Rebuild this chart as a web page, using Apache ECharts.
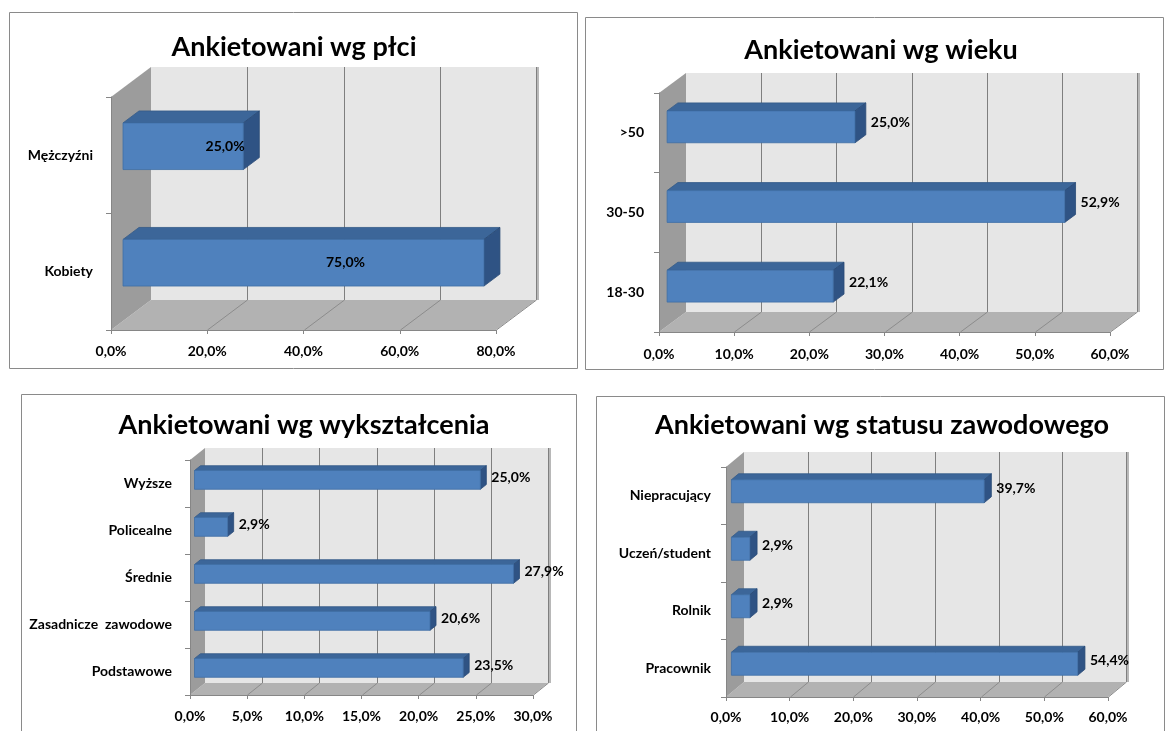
<!DOCTYPE html>
<html><head><meta charset="utf-8">
<script src="https://cdn.jsdelivr.net/npm/echarts@6/dist/echarts.min.js"></script>
<style>html,body{margin:0;padding:0;background:#fff}#c{width:1167px;height:731px}</style>
</head><body><div id="c"></div>
<script>
// ---- data ----
const genderCats = ['Kobiety', 'Mężczyźni'];
const genderVals = [75.0, 25.0];
const ageCats = ['18-30', '30-50', '>50'];
const ageVals = [22.1, 52.9, 25.0];
const eduCats = ['Podstawowe', 'Zasadnicze  zawodowe', 'Średnie', 'Policealne', 'Wyższe'];
const eduVals = [23.5, 20.6, 27.9, 2.9, 25.0];
const jobCats = ['Pracownik', 'Rolnik', 'Uczeń/student', 'Niepracujący'];
const jobVals = [54.4, 2.9, 2.9, 39.7];
const titles = ['Ankietowani wg płci', 'Ankietowani wg wieku', 'Ankietowani wg wykształcenia', 'Ankietowani wg statusu zawodowego'];
const axisMax = [80, 60, 30, 60];
const axisStep = [20, 10, 5, 10];

// ---- layout / style ----
const FONT = 'Lato';
const panels = [
  {cats: genderCats, vals: genderVals, grid: {left: 111, top: 97, width: 385, height: 233}, depth: [40, -30],
   box: [9, 12, 568, 356], title: [294, 47], inside: true, yMargin: 18, xMargin: 14},
  {cats: ageCats, vals: ageVals, grid: {left: 659, top: 93, width: 451, height: 239}, depth: [27, -20],
   box: [585, 17, 578, 352], title: [881, 50], inside: false, yMargin: 15, xMargin: 15},
  {cats: eduCats, vals: eduVals, grid: {left: 190, top: 460, width: 343, height: 235}, depth: [15, -12],
   box: [21, 394, 555, 400], title: [304, 425], inside: false, yMargin: 18, xMargin: 14},
  {cats: jobCats, vals: jobVals, grid: {left: 726, top: 467, width: 382, height: 230}, depth: [18, -15],
   box: [596, 396, 568, 400], title: [882, 425], inside: false, yMargin: 15, xMargin: 13}
];

function fmt(v) { return v.toFixed(1).replace('.', ',') + '%'; }

function wallRender(depth, max, step) {
  return function (params, api) {
    const cs = params.coordSys;
    const x0 = cs.x, y0 = cs.y, w = cs.width, h = cs.height;
    const dx = depth[0], dy = depth[1];
    const ch = [];
    ch.push({type: 'rect', shape: {x: x0 + dx, y: y0 + dy, width: w, height: h}, style: {fill: '#e6e6e6'}});
    ch.push({type: 'rect', shape: {x: x0 + dx + w, y: y0 + dy, width: 3, height: h}, style: {fill: '#b8b8b8'}});
    ch.push({type: 'polygon', shape: {points: [[x0, y0 + h], [x0 + w, y0 + h], [x0 + w + dx, y0 + h + dy], [x0 + dx, y0 + h + dy]]}, style: {fill: '#b2b2b2'}});
    ch.push({type: 'polygon', shape: {points: [[x0, y0], [x0 + dx, y0 + dy], [x0 + dx, y0 + h + dy], [x0, y0 + h]]}, style: {fill: '#9c9c9c'}});
    for (let t = 0; t <= max + 1e-9; t += step) {
      const x = Math.round(api.coord([t, 0])[0]) + 0.5;
      if (t > 0) {
        ch.push({type: 'line', shape: {x1: x + dx, y1: y0 + dy, x2: x + dx, y2: y0 + h + dy}, style: {stroke: '#7f7f7f', lineWidth: 1}});
        ch.push({type: 'line', shape: {x1: x, y1: y0 + h, x2: x + dx, y2: y0 + h + dy}, style: {stroke: '#8c8c8c', lineWidth: 1}});
      }
    }
    return {type: 'group', children: ch};
  };
}

function barRender(depth, inside) {
  return function (params, api) {
    const v = api.value(0), i = api.value(1);
    const p0 = api.coord([0, i]), p1 = api.coord([v, i]);
    const band = api.size([0, 1])[1];
    const bh = band * 0.4;
    const fx = depth[0] * 0.3, fy = depth[1] * 0.3;
    const bx = depth[0] * 0.4, by = depth[1] * 0.4;
    const xa = p0[0] + fx, xb = p1[0] + fx;
    const yc = p0[1] + fy, yt = yc - bh / 2, yb = yc + bh / 2;
    const ch = [
      {type: 'polygon', shape: {points: [[xa, yt], [xb, yt], [xb + bx, yt + by], [xa + bx, yt + by]]},
       style: {fill: '#3c6699', stroke: '#335a88', lineWidth: 0.8}},
      {type: 'polygon', shape: {points: [[xb, yt], [xb + bx, yt + by], [xb + bx, yb + by], [xb, yb]]},
       style: {fill: '#2f5384', stroke: '#2a4a76', lineWidth: 0.8}},
      {type: 'rect', shape: {x: xa, y: yt, width: xb - xa, height: bh},
       style: {fill: '#4f81bd', stroke: '#3f6ea6', lineWidth: 0.8}}
    ];
    let lx, ly, al;
    if (inside) { lx = (xa + xb) / 2 + 42; ly = yc; al = 'center'; }
    else { lx = xb + bx + 5; ly = yc + by / 2; al = 'left'; }
    ch.push({type: 'text', style: {text: fmt(v), x: lx, y: ly, fill: '#000', font: 'bold 14px ' + FONT, align: al, verticalAlign: 'middle'}});
    return {type: 'group', children: ch};
  };
}

const option = {
  backgroundColor: '#ffffff',
  animation: false,
  grid: [], xAxis: [], yAxis: [], series: [], graphic: []
};

panels.forEach((p, k) => {
  option.grid.push(Object.assign({outerBoundsMode: 'none', containLabel: false}, p.grid));
  option.xAxis.push({
    type: 'value', gridIndex: k, min: 0, max: axisMax[k], interval: axisStep[k], z: 5,
    axisLine: {show: true, lineStyle: {color: '#868686', width: 1}},
    axisTick: {show: true, length: 4, lineStyle: {color: '#868686'}},
    splitLine: {show: false},
    axisLabel: {formatter: fmt, margin: p.xMargin, color: '#000', fontFamily: FONT, fontWeight: 'bold', fontSize: 14}
  });
  option.yAxis.push({
    type: 'category', gridIndex: k, data: p.cats, z: 5,
    axisLine: {show: true, lineStyle: {color: '#868686', width: 1}},
    axisTick: {show: true, length: 5, lineStyle: {color: '#868686'}},
    splitLine: {show: false},
    axisLabel: {margin: p.yMargin, color: '#000', fontFamily: FONT, fontWeight: 'bold', fontSize: 14}
  });
  option.series.push({
    type: 'custom', xAxisIndex: k, yAxisIndex: k, z: 1, clip: false, silent: true,
    renderItem: wallRender(p.depth, axisMax[k], axisStep[k]),
    data: [[0, 0]]
  });
  option.series.push({
    type: 'custom', xAxisIndex: k, yAxisIndex: k, z: 2, clip: false,
    encode: {x: 0, y: 1},
    renderItem: barRender(p.depth, p.inside),
    data: p.vals.map((v, i) => [v, i])
  });
  option.graphic.push({
    type: 'rect', z: -10, shape: {x: p.box[0] + 0.5, y: p.box[1] + 0.5, width: p.box[2], height: p.box[3]},
    style: {fill: 'none', stroke: '#8a8a8a', lineWidth: 1}
  });
  option.graphic.push({
    type: 'text', x: p.title[0], y: p.title[1],
    style: {text: titles[k], fill: '#000', font: 'bold 27px ' + FONT, align: 'center', verticalAlign: 'middle'}
  });
});

const chart = echarts.init(document.getElementById('c'), null, {renderer: 'canvas'});
chart.setOption(option);
</script>
</body></html>
